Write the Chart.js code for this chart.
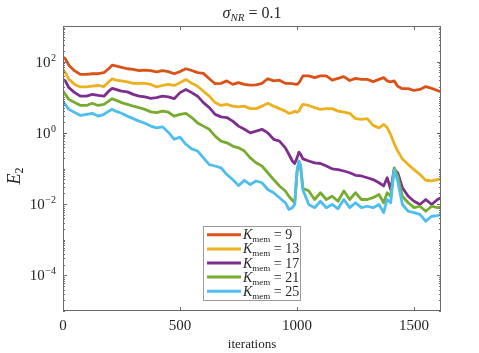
<!DOCTYPE html>
<html>
<head>
<meta charset="utf-8">
<script src="https://cdn.jsdelivr.net/npm/chart.js@4/dist/chart.umd.min.js"></script>
<style>
  html, body { margin: 0; padding: 0; background: #fff; }
  canvas { display: block; }
</style>
</head>
<body>
<canvas id="chart" width="479" height="353"></canvas>
<script>
// Iterations where the curves were read
const iters = [
    0, 10, 25, 50, 75, 100, 125, 150, 175,
    195, 210, 225,
    250, 275, 300, 325, 350, 375, 400, 425, 450, 475, 500, 525, 550, 575, 600,
    625, 650, 675, 700, 725, 750, 775, 800, 825, 850, 875, 900, 925, 950,
    965, 980, 990, 1000, 1008, 1015, 1025,
    1050, 1075, 1100, 1125, 1150, 1175, 1200, 1225, 1250, 1275, 1300, 1325, 1350,
    1370, 1385, 1400, 1415, 1430,
    1450, 1475, 1500, 1525, 1550, 1575, 1600,
    1615
];

// log10(E2), one array per memory size
const k9Log = [
    2.13, 2.08, 1.90, 1.74, 1.64, 1.64, 1.66, 1.66, 1.69,
    1.80, 1.90, 1.88,
    1.84, 1.80, 1.78, 1.75, 1.76, 1.75, 1.71, 1.75, 1.72, 1.66, 1.72, 1.80, 1.75, 1.69, 1.67,
    1.52, 1.38, 1.39, 1.46, 1.36, 1.41, 1.36, 1.34, 1.35, 1.39, 1.52, 1.46, 1.48, 1.39,
    1.39, 1.38, 1.37, 1.36, 1.41, 1.48, 1.60,
    1.60, 1.55, 1.60, 1.60, 1.48, 1.53, 1.58, 1.47, 1.53, 1.50, 1.50, 1.44, 1.50,
    1.55, 1.46, 1.43, 1.46, 1.31,
    1.24, 1.24, 1.19, 1.22, 1.30, 1.25, 1.19,
    1.15
];
const k13Log = [
    1.78, 1.69, 1.50, 1.36, 1.29, 1.29, 1.31, 1.33, 1.30,
    1.43, 1.52, 1.48,
    1.46, 1.43, 1.39, 1.39, 1.39, 1.36, 1.29, 1.33, 1.36, 1.33, 1.41, 1.50, 1.39, 1.31, 1.17,
    1.03, 0.85, 0.77, 0.80, 0.75, 0.73, 0.75, 0.68, 0.68, 0.75, 0.83, 0.75, 0.68, 0.61,
    0.55, 0.57, 0.61, 0.58, 0.61, 0.71, 0.80,
    0.77, 0.71, 0.66, 0.68, 0.68, 0.61, 0.58, 0.55, 0.40, 0.38, 0.40, 0.21, 0.14,
    0.24, 0.15, -0.05, -0.30, -0.51,
    -0.73, -0.89, -1.03, -1.17, -1.33, -1.35, -1.31,
    -1.28
];
const k17Log = [
    1.50, 1.46, 1.27, 1.13, 1.03, 1.03, 1.08, 1.05, 1.03,
    1.17, 1.25, 1.22,
    1.17, 1.15, 1.08, 1.03, 1.01, 0.97, 0.99, 1.03, 1.01, 0.96, 1.13, 1.22, 1.13, 1.03, 0.85,
    0.71, 0.52, 0.45, 0.43, 0.33, 0.19, 0.10, 0.00, 0.05, 0.10, 0.00, -0.18, -0.23, -0.42,
    -0.60, -0.79, -0.86, -0.70, -0.54, -0.60, -0.73,
    -0.79, -0.84, -0.86, -0.93, -1.01, -1.03, -1.07, -1.12, -1.19, -1.21, -1.26, -1.31, -1.40,
    -1.49, -1.26, -1.59, -1.03, -1.12,
    -1.54, -1.78, -1.92, -2.01, -1.87, -2.01, -1.87,
    -1.82
];
const k21Log = [
    1.17, 1.08, 0.94, 0.85, 0.77, 0.77, 0.83, 0.77, 0.80,
    0.89, 0.96, 0.92,
    0.85, 0.80, 0.75, 0.71, 0.66, 0.59, 0.57, 0.61, 0.58, 0.47, 0.52, 0.55, 0.43, 0.28, 0.19,
    0.10, -0.09, -0.23, -0.28, -0.37, -0.42, -0.51, -0.70, -0.84, -0.93, -1.12, -1.31, -1.49, -1.63,
    -1.78, -1.89, -1.96, -1.10, -0.82, -0.95, -1.55,
    -1.63, -1.87, -1.68, -1.87, -1.78, -1.92, -1.63, -1.87, -1.68, -1.87, -1.87, -1.82, -1.73,
    -1.96, -1.68, -1.78, -0.98, -1.21,
    -1.78, -1.96, -2.10, -2.06, -2.20, -2.06, -2.10,
    -2.10
];
const k25Log = [
    0.87, 0.80, 0.66, 0.57, 0.49, 0.52, 0.55, 0.47, 0.52,
    0.61, 0.66, 0.61,
    0.55, 0.47, 0.40, 0.33, 0.27, 0.19, 0.14, 0.17, 0.02, -0.18, -0.12, -0.32, -0.45, -0.51, -0.70,
    -0.89, -0.93, -0.98, -1.17, -1.31, -1.48, -1.33, -1.45, -1.35, -1.40, -1.59, -1.68, -1.82, -1.96,
    -2.15, -2.10, -2.01, -1.05, -0.79, -0.90, -1.60,
    -2.01, -2.10, -1.92, -2.10, -2.01, -2.13, -1.87, -2.10, -1.96, -2.10, -2.06, -2.10, -2.01,
    -2.24, -1.87, -1.96, -1.03, -1.35,
    -2.01, -2.20, -2.24, -2.29, -2.48, -2.34, -2.32,
    -2.29
];

const kMem = [9, 13, 17, 21, 25];
const seriesLogs = [k9Log, k13Log, k17Log, k21Log, k25Log];
const colors = ['#D95319', '#EDB120', '#7E2F8E', '#77AC30', '#4DBEEE'];

// Axis ticks
const xTicks = [0, 500, 1000, 1500];
const yTickExps = [-4, -2, 0, 2];

const SERIF = '"Liberation Serif", "DejaVu Serif", serif';
const AXIS_COLOR = '#6b6b6b';
const TEXT_COLOR = '#262626';

// Draw a run of text pieces: [text, fontSize, italic, dy]
function drawRich(ctx, pieces, x, y, align) {
    let total = 0;
    const widths = pieces.map(p => {
        ctx.font = (p[2] ? 'italic ' : '') + p[1] + 'px ' + SERIF;
        const w = ctx.measureText(p[0]).width;
        total += w;
        return w;
    });
    let cx = align === 'center' ? x - total / 2 : x;
    ctx.textAlign = 'left';
    pieces.forEach((p, i) => {
        ctx.font = (p[2] ? 'italic ' : '') + p[1] + 'px ' + SERIF;
        ctx.fillText(p[0], cx, y + (p[3] || 0));
        cx += widths[i];
    });
}

// Box, inside ticks, labels, title and legend in MATLAB style
const decor = {
    id: 'decor',
    beforeDraw(chart) {
        const ctx = chart.ctx;
        ctx.save();
        ctx.fillStyle = '#fff';
        ctx.fillRect(0, 0, chart.width, chart.height);
        ctx.restore();
    },
    afterDraw(chart) {
        const { ctx, chartArea: a, scales: { x, y } } = chart;
        ctx.save();

        // box
        ctx.strokeStyle = AXIS_COLOR;
        ctx.lineWidth = 1;
        ctx.strokeRect(a.left + 0.5, a.top + 0.5, a.right - a.left - 1, a.bottom - a.top - 1);

        // x ticks
        ctx.beginPath();
        xTicks.forEach(v => {
            const px = Math.round(x.getPixelForValue(v)) + 0.5;
            ctx.moveTo(px, a.bottom); ctx.lineTo(px, a.bottom - 4);
            ctx.moveTo(px, a.top); ctx.lineTo(px, a.top + 4);
        });
        // y ticks (major at labelled decades, minor elsewhere)
        for (let d = -5; d <= 2; d++) {
            for (let k = 1; k <= 9; k++) {
                const v = k * Math.pow(10, d);
                const py = Math.round(y.getPixelForValue(v)) + 0.5;
                const len = (k === 1 && yTickExps.includes(d)) ? 4 : 2;
                ctx.moveTo(a.left, py); ctx.lineTo(a.left + len, py);
                ctx.moveTo(a.right, py); ctx.lineTo(a.right - len, py);
            }
        }
        ctx.stroke();

        ctx.fillStyle = TEXT_COLOR;
        ctx.textBaseline = 'alphabetic';

        // x tick labels
        ctx.font = '15px ' + SERIF;
        ctx.textAlign = 'center';
        xTicks.forEach(v => {
            ctx.fillText(String(v), x.getPixelForValue(v), 330);
        });

        // y tick labels 10^e
        yTickExps.forEach(e => {
            const py = y.getPixelForValue(Math.pow(10, e));
            const expStr = e < 0 ? '\u2212' + Math.abs(e) : String(e);
            ctx.font = '10px ' + SERIF;
            ctx.textAlign = 'right';
            const ew = ctx.measureText(expStr).width;
            ctx.fillText(expStr, 56, py - 1);
            ctx.font = '15px ' + SERIF;
            ctx.fillText('10', 56 - ew - 0.5, py + 5);
        });

        // title
        drawRich(ctx, [['\u03C3', 16, true, 0], ['NR', 11, true, 3], [' = 0.1', 16, false, 0]],
            (a.left + a.right) / 2, 18, 'center');

        // x label
        ctx.font = '13px ' + SERIF;
        ctx.textAlign = 'center';
        ctx.fillText('iterations', (a.left + a.right) / 2, 348);

        // y label
        ctx.save();
        ctx.translate(20, 176);
        ctx.rotate(-Math.PI / 2);
        drawRich(ctx, [['E', 18, true, 0], ['2', 12, false, 3]], 0, 0, 'center');
        ctx.restore();

        // legend
        const lx = 203.5, ly = 226.5, lw = 97, lh = 74;
        ctx.fillStyle = '#fff';
        ctx.fillRect(lx, ly, lw, lh);
        ctx.strokeStyle = '#9a9a9a';
        ctx.strokeRect(lx, ly, lw, lh);
        kMem.forEach((k, i) => {
            const ry = 234.8 + i * 14.1;
            ctx.strokeStyle = colors[i];
            ctx.lineWidth = 3;
            ctx.beginPath();
            ctx.moveTo(207, ry); ctx.lineTo(241, ry);
            ctx.stroke();
            ctx.fillStyle = TEXT_COLOR;
            drawRich(ctx, [['K', 14, true, 0], ['mem', 9, false, 3], [' = ' + k, 14, false, 0]],
                243, ry + 4.5, 'left');
        });

        ctx.restore();
    }
};

new Chart(document.getElementById('chart'), {
    type: 'line',
    data: {
        datasets: seriesLogs.map((logs, i) => ({
            label: 'K_mem = ' + kMem[i],
            data: iters.map((it, j) => ({ x: it, y: Math.pow(10, logs[j]) })),
            borderColor: colors[i],
            backgroundColor: colors[i],
            borderWidth: 2.8,
            borderJoinStyle: 'round',
            borderCapStyle: 'round',
            pointRadius: 0,
            tension: 0,
            order: seriesLogs.length - i
        }))
    },
    options: {
        responsive: false,
        animation: false,
        devicePixelRatio: 1,
        layout: { padding: { top: 26, right: 38, left: 0, bottom: 0 } },
        plugins: {
            legend: { display: false },
            title: { display: false },
            tooltip: { enabled: false }
        },
        scales: {
            x: {
                type: 'linear',
                min: 0,
                max: 1615,
                grid: { display: false },
                border: { display: false },
                ticks: { display: false },
                afterFit: s => { s.height = 42; }
            },
            y: {
                type: 'logarithmic',
                min: 1e-5,
                max: 1e3,
                grid: { display: false },
                border: { display: false },
                ticks: { display: false },
                afterFit: s => { s.width = 63; }
            }
        }
    },
    plugins: [decor]
});
</script>
</body>
</html>
